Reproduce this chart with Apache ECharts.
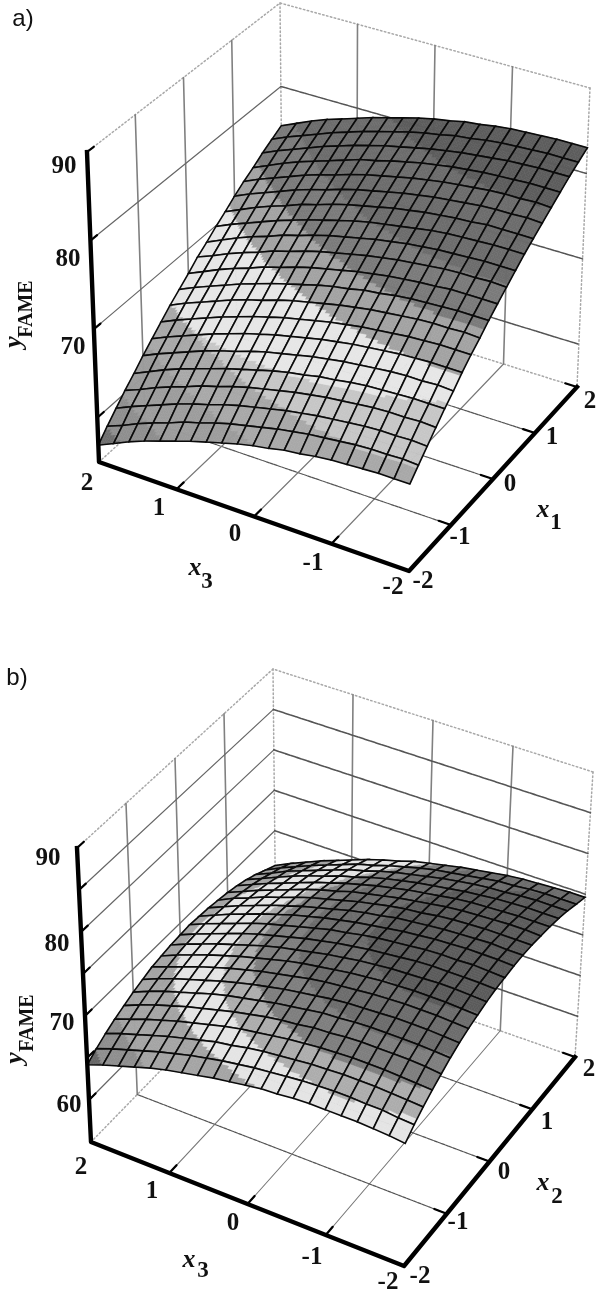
<!DOCTYPE html>
<html><head><meta charset="utf-8">
<style>html,body{margin:0;padding:0;background:#fff}#c{width:600px;height:1296px}</style>
<script src="https://cdn.jsdelivr.net/npm/echarts@6/dist/echarts.min.js"></script>
</head><body><div id="c"></div>
<script>
// ---- values ----
const axisTicks = [-2,-1,0,1,2];
const zTicksA = [60,70,80,90];
const zTicksB = [60,65,70,75,80,85,90];
// rows: x1 (or x2) = -2 .. 2 step 0.2; columns: x3 = -2 .. 2 step 0.2
const surfaceA = [
[64.6,64.6,64.6,64.5,64.4,64.3,64.1,63.8,63.6,63.2,62.9,62.5,62.0,61.5,61.0,60.4,59.8,59.2,58.5,57.7,56.9],
[65.7,65.8,65.7,65.7,65.6,65.4,65.2,65.0,64.7,64.4,64.0,63.6,63.2,62.7,62.1,61.6,60.9,60.3,59.6,58.8,58.1],
[66.8,66.9,66.8,66.8,66.7,66.5,66.3,66.1,65.8,65.5,65.1,64.7,64.3,63.8,63.2,62.7,62.1,61.4,60.7,60.0,59.2],
[67.9,68.0,67.9,67.9,67.8,67.6,67.4,67.2,66.9,66.6,66.2,65.8,65.4,64.9,64.3,63.8,63.1,62.5,61.8,61.0,60.3],
[69.0,69.0,69.0,68.9,68.8,68.7,68.5,68.2,68.0,67.6,67.3,66.9,66.4,65.9,65.4,64.8,64.2,63.6,62.9,62.1,61.3],
[70.0,70.1,70.0,70.0,69.9,69.7,69.5,69.3,69.0,68.7,68.3,67.9,67.5,67.0,66.4,65.9,65.3,64.6,63.9,63.2,62.4],
[71.1,71.1,71.1,71.0,70.9,70.7,70.5,70.3,70.0,69.7,69.3,68.9,68.5,68.0,67.5,66.9,66.3,65.6,64.9,64.2,63.4],
[72.1,72.1,72.1,72.0,71.9,71.7,71.5,71.3,71.0,70.7,70.3,69.9,69.5,69.0,68.5,67.9,67.3,66.6,65.9,65.2,64.4],
[73.0,73.1,73.0,73.0,72.9,72.7,72.5,72.3,72.0,71.7,71.3,70.9,70.5,70.0,69.4,68.9,68.3,67.6,66.9,66.2,65.4],
[74.0,74.0,74.0,73.9,73.8,73.7,73.5,73.2,73.0,72.6,72.3,71.9,71.4,70.9,70.4,69.8,69.2,68.5,67.8,67.1,66.3],
[74.9,74.9,74.9,74.9,74.7,74.6,74.4,74.2,73.9,73.6,73.2,72.8,72.4,71.9,71.3,70.8,70.1,69.5,68.8,68.0,67.2],
[75.8,75.9,75.8,75.8,75.7,75.5,75.3,75.1,74.8,74.5,74.1,73.7,73.3,72.8,72.2,71.7,71.0,70.4,69.7,68.9,68.2],
[76.7,76.7,76.7,76.6,76.5,76.4,76.2,76.0,75.7,75.4,75.0,74.6,74.2,73.7,73.1,72.6,71.9,71.3,70.6,69.8,69.0],
[77.6,77.6,77.6,77.5,77.4,77.3,77.1,76.8,76.5,76.2,75.9,75.5,75.0,74.5,74.0,73.4,72.8,72.1,71.4,70.7,69.9],
[78.4,78.4,78.4,78.4,78.2,78.1,77.9,77.7,77.4,77.1,76.7,76.3,75.9,75.4,74.8,74.3,73.6,73.0,72.3,71.5,70.7],
[79.2,79.3,79.2,79.2,79.1,78.9,78.7,78.5,78.2,77.9,77.5,77.1,76.7,76.2,75.6,75.1,74.5,73.8,73.1,72.4,71.6],
[80.0,80.1,80.0,80.0,79.9,79.7,79.5,79.3,79.0,78.7,78.3,77.9,77.5,77.0,76.4,75.9,75.3,74.6,73.9,73.2,72.4],
[80.8,80.8,80.8,80.7,80.6,80.5,80.3,80.1,79.8,79.5,79.1,78.7,78.2,77.8,77.2,76.6,76.0,75.4,74.7,73.9,73.1],
[81.6,81.6,81.6,81.5,81.4,81.2,81.0,80.8,80.5,80.2,79.8,79.4,79.0,78.5,78.0,77.4,76.8,76.1,75.4,74.7,73.9],
[82.3,82.3,82.3,82.2,82.1,82.0,81.8,81.5,81.3,80.9,80.6,80.2,79.7,79.2,78.7,78.1,77.5,76.8,76.1,75.4,74.6],
[83.0,83.0,83.0,82.9,82.8,82.7,82.5,82.2,82.0,81.6,81.3,80.9,80.4,79.9,79.4,78.8,78.2,77.6,76.9,76.1,75.3]
];
const surfaceB = [
[69.3,69.5,69.6,69.7,69.7,69.7,69.7,69.6,69.4,69.3,69.0,68.7,68.4,68.0,67.6,67.2,66.7,66.1,65.5,64.9,64.2],
[70.3,70.4,70.6,70.6,70.7,70.7,70.6,70.5,70.3,70.1,69.9,69.6,69.3,68.9,68.5,68.0,67.5,66.9,66.3,65.7,65.0],
[71.2,71.3,71.4,71.5,71.5,71.5,71.4,71.3,71.1,70.9,70.7,70.4,70.0,69.7,69.2,68.7,68.2,67.6,67.0,66.4,65.7],
[72.0,72.1,72.2,72.3,72.3,72.3,72.2,72.1,71.9,71.7,71.4,71.1,70.8,70.4,69.9,69.4,68.9,68.3,67.7,67.0,66.3],
[72.7,72.9,73.0,73.0,73.0,73.0,72.9,72.7,72.6,72.3,72.1,71.8,71.4,71.0,70.5,70.0,69.5,68.9,68.3,67.6,66.8],
[73.4,73.5,73.6,73.6,73.6,73.6,73.5,73.3,73.2,72.9,72.6,72.3,71.9,71.5,71.1,70.6,70.0,69.4,68.8,68.1,67.3],
[74.0,74.1,74.2,74.2,74.2,74.1,74.0,73.9,73.7,73.4,73.1,72.8,72.4,72.0,71.5,71.0,70.4,69.8,69.2,68.5,67.7],
[74.5,74.6,74.7,74.7,74.7,74.6,74.5,74.3,74.1,73.9,73.6,73.2,72.8,72.4,71.9,71.4,70.8,70.2,69.5,68.8,68.1],
[74.9,75.0,75.1,75.1,75.1,75.0,74.9,74.7,74.5,74.2,73.9,73.6,73.2,72.7,72.2,71.7,71.1,70.5,69.8,69.1,68.3],
[75.3,75.4,75.5,75.5,75.4,75.3,75.2,75.0,74.8,74.5,74.2,73.8,73.4,73.0,72.5,71.9,71.3,70.7,70.0,69.3,68.5],
[75.6,75.7,75.7,75.7,75.7,75.6,75.4,75.2,75.0,74.7,74.4,74.0,73.6,73.1,72.6,72.1,71.5,70.8,70.1,69.4,68.6],
[75.8,75.9,76.0,75.9,75.9,75.8,75.6,75.4,75.2,74.9,74.5,74.2,73.7,73.2,72.7,72.2,71.6,70.9,70.2,69.5,68.7],
[76.0,76.1,76.1,76.1,76.0,75.9,75.7,75.5,75.2,74.9,74.6,74.2,73.8,73.3,72.8,72.2,71.6,70.9,70.2,69.4,68.6],
[76.1,76.1,76.2,76.1,76.0,75.9,75.7,75.5,75.3,74.9,74.6,74.2,73.7,73.2,72.7,72.1,71.5,70.8,70.1,69.3,68.5],
[76.1,76.1,76.1,76.1,76.0,75.9,75.7,75.4,75.2,74.9,74.5,74.1,73.6,73.1,72.6,72.0,71.3,70.7,69.9,69.2,68.3],
[76.0,76.1,76.1,76.0,75.9,75.8,75.6,75.3,75.0,74.7,74.3,73.9,73.5,72.9,72.4,71.8,71.1,70.4,69.7,68.9,68.1],
[75.9,75.9,75.9,75.8,75.7,75.6,75.4,75.1,74.8,74.5,74.1,73.7,73.2,72.7,72.1,71.5,70.8,70.1,69.4,68.6,67.8],
[75.7,75.7,75.7,75.6,75.5,75.3,75.1,74.8,74.5,74.2,73.8,73.4,72.9,72.3,71.8,71.1,70.5,69.8,69.0,68.2,67.4],
[75.4,75.4,75.4,75.3,75.1,75.0,74.8,74.5,74.2,73.8,73.4,73.0,72.5,71.9,71.4,70.7,70.0,69.3,68.6,67.7,66.9],
[75.0,75.0,75.0,74.9,74.7,74.6,74.3,74.0,73.7,73.4,73.0,72.5,72.0,71.4,70.9,70.2,69.5,68.8,68.0,67.2,66.3],
[74.6,74.6,74.5,74.4,74.3,74.1,73.8,73.5,73.2,72.8,72.4,72.0,71.4,70.9,70.3,69.6,68.9,68.2,67.4,66.6,65.7]
];
// colour bands: upper limit of each band, how the limit leans with x3 and with the depth axis
const levelsA = [58,60,63,65.5,67.2,71,73.5,76,80,99];
const leanA3  = [0,0,0,0,-1.1,0,0,0,0,0];
const leanAd  = [0,0,0,0,0,0,0,0,0,0];
const shadesA = ['#6e6e6e','#8e8e8e','#9c9c9c','#a8a8a8','#c6c6c6','#e6e6e6','#a2a2a2','#7a7a7a','#6c6c6c','#5c5c5c'];
const levelsB = [64.9,66.5,69.2,71.5,72.28,73.5,75,99];
const leanB3  = [0,0,0,0,0,0,0,0];
const leanBd  = [0,0,0,0.5,0.2,0,0,0];
const shadesB = ['#666666','#8e8e8e','#a4a4a4','#e4e4e4','#acacac','#7e7e7e','#6c6c6c','#5a5a5a'];

// ---- layout ----
const Z0 = 55, Z1 = 90;
const boxA = {bot:{L:[99,462],F:[409,571],R:[577,387],B:[283,295]}, top:{L:[87,152],F:[412,254],R:[590,88],B:[280,3]}};
const boxB = {bot:{L:[91,1142],F:[404,1266],R:[575,1057],B:[276,952]}, top:{L:[77,848],F:[407,966],R:[593,772],B:[273,669]}};
const NUM = "bold 25px 'Liberation Serif'";
const TITLE_X = "italic bold 26px 'Liberation Serif'";
const TITLE_SUB = "bold 23px 'Liberation Serif'";
const TITLE_FAME = "bold 20px 'Liberation Serif'";
const TAG = "24px 'Liberation Sans'";
const UP = Math.PI/2;
const textsA = [
 ['a)',23,19,TAG],
 ['90',64,167,NUM],['80',68,260,NUM],['70',73,348,NUM],
 ['2',87,484,NUM],['1',159,509,NUM],['0',235,535,NUM],['-1',313,564,NUM],['-2',393,588,NUM],
 ['-2',423,582,NUM],['-1',460,538,NUM],['0',510,485,NUM],['1',552,438,NUM],['2',590,402,NUM],
 ['x',195,568,TITLE_X],['3',207,582,TITLE_SUB],
 ['x',543,510,TITLE_X],['1',556,523,TITLE_SUB],
 ['y',14,342,TITLE_X,UP],['FAME',27,309,TITLE_FAME,UP]
];
const textsB = [
 ['b)',17,678,TAG],
 ['90',48,859,NUM],['80',57,945,NUM],['70',62,1024,NUM],['60',69,1106,NUM],
 ['2',81,1168,NUM],['1',152,1192,NUM],['0',233,1224,NUM],['-1',312,1258,NUM],['-2',388,1283,NUM],
 ['-2',420,1277,NUM],['-1',458,1223,NUM],['0',504,1173,NUM],['1',547,1123,NUM],['2',589,1070,NUM],
 ['x',189,1260,TITLE_X],['3',203,1271,TITLE_SUB],
 ['x',543,1183,TITLE_X],['2',557,1197,TITLE_SUB],
 ['y',15,1058,TITLE_X,UP],['FAME',28,1023,TITLE_FAME,UP]
];

const lerp=(a,b,t)=>[a[0]+(b[0]-a[0])*t,a[1]+(b[1]-a[1])*t];
function project(box,xd,x3,z){
  const s=(2-x3)/4,t=(xd+2)/4,w=(z-Z0)/(Z1-Z0);
  const q=k=>lerp(lerp(k.L,k.F,s),lerp(k.B,k.R,s),t);
  return lerp(q(box.bot),q(box.top),w);
}
function seg(pts,style,z){
  return {type:'line',data:pts,showSymbol:false,symbol:'none',silent:true,clip:false,animation:false,z:z||1,
    lineStyle:Object.assign({cap:'round',join:'round'},style)};
}
function panelSeries(box,table,levels,lean3,leanD,shades,zGrid,zTicks,horizontalStyle){
  const out=[];
  const P=(a,b,c)=>project(box,a,b,c);
  const dots={color:'#a8a8a8',width:1.5,type:[1.5,2.5]};
  const vert={color:'#808080',width:1.6};
  const fl1={color:'#777',width:1.1};
  const fl2={color:'#555',width:1.2,type:[3,1]};
  out.push(seg([P(-2,2,Z1),P(2,2,Z1),P(2,-2,Z1)],dots));
  out.push(seg([P(2,2,Z1),P(2,2,Z0)],dots));
  out.push(seg([P(2,-2,Z1),P(2,-2,Z0)],dots));
  out.push(seg([P(-2,2,Z0),P(2,2,Z0),P(2,-2,Z0)],dots));
  [-1,0,1].forEach(v=>{
    out.push(seg([P(v,2,Z1),P(v,2,Z0)],vert));
    out.push(seg([P(2,v,Z1),P(2,v,Z0)],vert));
    out.push(seg([P(-2,v,Z0),P(2,v,Z0)],fl1));
    out.push(seg([P(v,-2,Z0),P(v,2,Z0)],fl2));
  });
  zGrid.forEach(v=>{
    out.push(seg([P(-2,2,v),P(2,2,v)],{color:'#666',width:1.2}));
    out.push(seg([P(2,2,v),P(2,-2,v)],horizontalStyle));
  });
  const n=table.length-1, cells=[];
  for(let i=n-1;i>=0;i--) for(let j=n-1;j>=0;j--) cells.push([i,j]);
  const val=i=>-2+4*i/n;
  const shade=(v,xd,x3)=>{
    for(let k=0;k<levels.length;k++) if(v<levels[k]+lean3[k]*x3+leanD[k]*xd) return shades[k];
    return shades[shades.length-1];
  };
  out.push({type:'custom',coordinateSystem:'cartesian2d',z:2,clip:false,silent:true,animation:false,
    encode:{x:0,y:1},
    data:cells,
    renderItem:function(params,api){
      const c=cells[params.dataIndex], i=c[0], j=c[1];
      const z00=table[i][j],z01=table[i][j+1],z10=table[i+1][j],z11=table[i+1][j+1];
      const children=[], m=6;
      const pt=(a,b)=>{
        const zv=(z00*(1-a)*(1-b)+z10*a*(1-b)+z01*(1-a)*b+z11*a*b);
        const xd=val(i)+a*4/n, x3=val(j)+b*4/n;
        return {p:api.coord(project(box,xd,x3,zv)),z:zv,xd:xd,x3:x3};
      };
      for(let a=0;a<m;a++) for(let b=0;b<m;b++){
        const q=[pt(a/m,b/m),pt((a+1)/m,b/m),pt((a+1)/m,(b+1)/m),pt(a/m,(b+1)/m)];
        const col=shade((q[0].z+q[2].z)/2,(q[0].xd+q[2].xd)/2,(q[0].x3+q[2].x3)/2);
        children.push({type:'polygon',shape:{points:q.map(o=>o.p)},style:{fill:col,stroke:col,lineWidth:0.6}});
      }
      const o=[pt(0,0),pt(1,0),pt(1,1),pt(0,1)].map(x=>x.p);
      children.push({type:'polygon',shape:{points:o},style:{fill:'none',stroke:'#0a0a0a',lineWidth:1.6}});
      return {type:'group',children:children};
    }});
  const ax={color:'#000',width:4.4,cap:'square'};
  out.push(seg([P(-2,2,Z1),P(-2,2,Z0),P(-2,-2,Z0),P(2,-2,Z0)],ax,3));
  const tk={color:'#000',width:2.2};
  axisTicks.forEach(v=>{
    if(v!==-2){ out.push(seg([P(v,-2,Z0),P(v,-1.84,Z0)],tk,3)); }
    if(v!==-2 && v!==2){ out.push(seg([P(-2,v,Z0),P(-1.84,v,Z0)],tk,3)); }
  });
  zTicks.forEach(v=>out.push(seg([P(-2,2,v),P(-1.86,2,v)],tk,3)));
  return out;
}
function textSeries(items){
  return {type:'custom',coordinateSystem:'cartesian2d',z:4,clip:false,silent:true,animation:false,
    encode:{x:1,y:2},data:items.map(t=>[0,t[1],t[2]]),
    renderItem:function(params,api){
      const t=items[params.dataIndex], p=api.coord([t[1],t[2]]);
      return {type:'text',x:p[0],y:p[1],rotation:t[4]||0,
        style:{text:t[0],font:t[3],fill:'#111',align:'center',verticalAlign:'middle'}};
    }};
}
const chart=echarts.init(document.getElementById('c'),null,{renderer:'canvas',width:600,height:1296});
chart.setOption({
  animation:false,backgroundColor:'#fff',
  grid:{left:0,right:0,top:0,bottom:0,containLabel:false},
  xAxis:{type:'value',min:0,max:600,show:false},
  yAxis:{type:'value',min:0,max:1296,inverse:true,show:false},
  series:[].concat(
    panelSeries(boxA,surfaceA,levelsA,leanA3,leanAd,shadesA,[60,70,80],zTicksA,{color:'#555',width:1.5,type:[4,1]}),
    panelSeries(boxB,surfaceB,levelsB,leanB3,leanBd,shadesB,[60,65,70,75,80,85],zTicksB,{color:'#555',width:1.6,type:[5,1]}),
    [textSeries(textsA),textSeries(textsB)]
  )
});
</script></body></html>
